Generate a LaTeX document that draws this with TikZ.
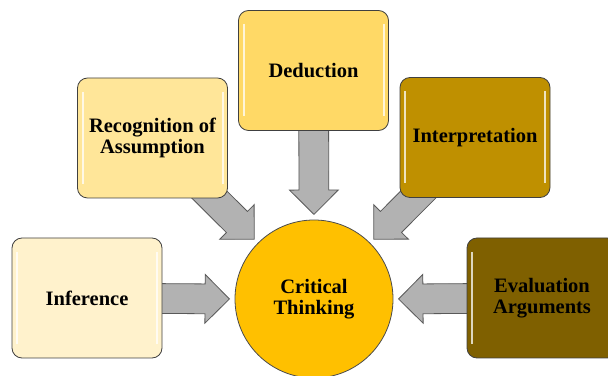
\documentclass[tikz,border=0pt]{standalone}
\usepackage{fontspec}
\setmainfont{Liberation Serif}
\usetikzlibrary{shapes.arrows,calc,backgrounds}
\definecolor{infcol}{HTML}{FFF2CC}
\definecolor{reccol}{HTML}{FFE699}
\definecolor{dedcol}{HTML}{FFD966}
\definecolor{itpcol}{HTML}{BF9000}
\definecolor{evacol}{HTML}{7F6000}
\definecolor{ctcol}{HTML}{FFC000}
\definecolor{arrgray}{HTML}{B2B2B2}
% block arrow from #1 with its tip at #2
\newcommand{\blockarrow}[2]{%
  \path let \p1=($(#2)-(#1)$), \n1={atan2(\y1,\x1)}, \n2={veclen(\x1,\y1)} in
    node[blockarr,minimum height=\n2,rotate=\n1,anchor=tip] at (#2) {};}

\begin{document}
\begin{tikzpicture}[x=1pt,y=1pt,
  txt/.style={align=center,font=\bfseries\fontsize{20.5}{21}\selectfont},
  box/.style={txt,draw=black!75,line width=0.8pt,rounded corners=10pt,
    minimum width=150pt,minimum height=120pt,
    path picture={\draw[white,opacity=.75,line width=2pt,sharp corners]
      ([shift={(5pt,-14pt)}]path picture bounding box.north west) --
      ([shift={(5pt,14pt)}]path picture bounding box.south west)
      ([shift={(-5pt,-14pt)}]path picture bounding box.north east) --
      ([shift={(-5pt,14pt)}]path picture bounding box.south east);}},
  blockarr/.style={single arrow,draw=black!65,fill=arrgray,line width=0.8pt,
    inner xsep=0pt,inner ysep=14.5pt,single arrow head extend=9.5pt,
    single arrow tip angle=90}]
\useasboundingbox (0,0) rectangle (608,375);

\node[txt,circle,draw=black!70,line width=0.8pt,fill=ctcol,minimum size=158pt](ct) at (314,76) {Critical\\Thinking};

\node[box,fill=infcol](inf) at (87,77) {Inference};
\node[box,fill=reccol](rec) at (152.5,237) {Recognition of\\Assumption};
\node[box,fill=dedcol](ded) at (313.5,304.5) {Deduction};
\node[box,fill=itpcol](itp) at (475,237.5) {Interpretation};
\node[box,fill=evacol](eva) at (542,77) {Evaluation\\Arguments};

% arrow tips round the circle
\coordinate (tinf) at ($(ct.center)+(180:84)$);
\coordinate (trec) at ($(ct.center)+(135:84)$);
\coordinate (tded) at ($(ct.center)+(90:84)$);
\coordinate (titp) at ($(ct.center)+(45:84)$);
\coordinate (teva) at ($(ct.center)+(0:84)$);

\begin{scope}[on background layer]
\blockarrow{inf.center}{tinf}
\blockarrow{rec.center}{trec}
\blockarrow{ded.center}{tded}
\blockarrow{itp.center}{titp}
\blockarrow{eva.center}{teva}
\end{scope}

\end{tikzpicture}
\end{document}
